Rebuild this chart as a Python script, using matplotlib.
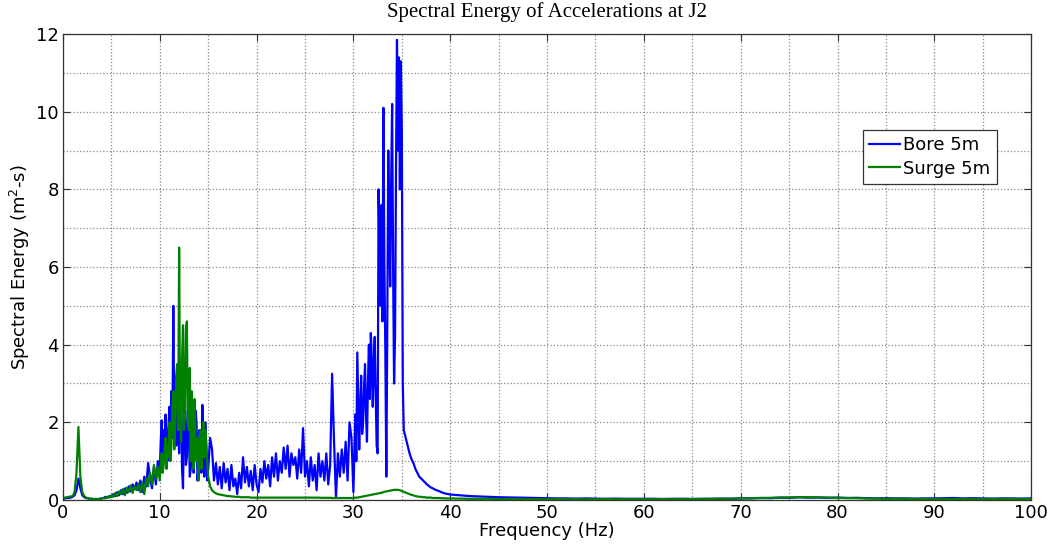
import numpy as np
import matplotlib
matplotlib.use("Agg")
import matplotlib.pyplot as plt
from matplotlib.ticker import MultipleLocator

# frequency grids (Hz): finer steps where the spectra are busy
bore_freq = np.concatenate([
    np.linspace(0, 9.8, 50),
    np.linspace(10, 15, 51),
    np.linspace(15.2, 29.8, 74),
    np.linspace(30, 35.2, 53),
    np.linspace(35.4, 40, 24),
    np.arange(41, 101),
])
surge_freq = np.concatenate([
    np.linspace(0, 9.8, 50),
    np.linspace(10, 15, 51),
    np.linspace(15.2, 40, 125),
    np.arange(41, 101),
])

bore_values = [
    # 0 - 9.8 Hz
    0.03, 0.04, 0.05, 0.05, 0.06,
    0.08, 0.12, 0.25, 0.55, 0.30,
    0.12, 0.07, 0.05, 0.04, 0.03,
    0.03, 0.02, 0.03, 0.02, 0.03,
    0.04, 0.05, 0.08, 0.06, 0.10,
    0.08, 0.15, 0.10, 0.20, 0.12,
    0.25, 0.15, 0.30, 0.18, 0.35,
    0.22, 0.40, 0.28, 0.45, 0.25,
    0.50, 0.20, 0.60, 0.35, 0.95,
    0.55, 0.30, 0.85, 0.40, 1.00,
    # 10 - 15 Hz
    0.70, 1.50, 2.05, 1.20, 1.80, 1.00, 2.20, 1.40, 1.00, 1.90,
    2.40, 1.30, 2.80, 1.60, 5.00, 2.00, 3.20, 1.40, 3.00, 1.80,
    1.20, 2.60, 2.90, 0.80, 0.30, 2.10, 2.50, 0.90, 1.10, 2.30,
    2.10, 0.60, 0.80, 1.70, 1.90, 0.70, 1.20, 2.30, 2.00, 0.50,
    0.90, 1.80, 1.60, 0.70, 2.45, 1.20, 0.60, 2.00, 1.30, 0.50,
    0.80,
    # 15.2 - 29.8 Hz
    1.60, 1.30, 0.50, 0.95,
    0.40, 0.85, 0.30, 0.95, 0.45,
    0.80, 0.25, 0.90, 0.35, 0.55,
    0.15, 0.70, 0.30, 1.10, 0.45,
    0.85, 0.35, 0.75, 0.25, 0.90,
    0.40, 0.20, 0.80, 0.45, 1.00,
    0.55, 0.90, 0.35, 1.10, 0.60,
    1.20, 0.50, 1.00, 0.70, 1.35,
    0.80, 1.40, 0.60, 1.20, 0.90,
    1.10, 0.55, 1.30, 0.70, 1.85,
    0.60, 1.00, 0.35, 1.10, 0.50,
    0.90, 0.25, 1.20, 0.60, 1.00,
    0.50, 1.20, 0.40, 0.90, 3.25,
    1.50, 0.05, 1.20, 0.60, 1.30,
    0.70, 1.50, 0.50, 2.00, 1.60,
    # 30 - 35.2 Hz
    0.20, 1.20, 2.20, 1.00, 3.80, 2.60, 1.30, 2.40, 3.20, 1.70,
    2.00, 2.90, 3.50, 2.20, 1.50, 3.00, 4.00, 2.60, 4.30, 3.60,
    2.40, 3.40, 4.20, 2.80, 1.40, 1.20, 8.00, 6.20, 5.00, 7.60,
    4.60, 10.10, 6.00, 3.80, 0.60, 4.50, 9.00, 7.00, 5.50, 8.20,
    10.20, 6.00, 3.00, 4.20, 8.50, 11.85, 9.00, 11.40, 8.00, 11.30,
    9.50, 3.00, 1.80,
    # 35.4 - 40 Hz
    1.60, 1.40, 1.20, 1.05, 0.95, 0.80, 0.70, 0.60, 0.55, 0.50,
    0.45, 0.40, 0.36, 0.32, 0.30, 0.27, 0.25, 0.23, 0.21, 0.19,
    0.17, 0.16, 0.15, 0.14,
    # 41 - 100 Hz
    0.12, 0.10, 0.09, 0.08, 0.07, 0.065, 0.06, 0.055, 0.05, 0.045,
    0.04, 0.04, 0.035, 0.04, 0.035, 0.03, 0.035, 0.03, 0.03, 0.03,
    0.03, 0.025, 0.03, 0.03, 0.025, 0.03, 0.03, 0.035, 0.03, 0.04,
    0.04, 0.05, 0.045, 0.06, 0.055, 0.07, 0.06, 0.065, 0.055, 0.06,
    0.05, 0.055, 0.045, 0.04, 0.045, 0.04, 0.04, 0.035, 0.04, 0.04,
    0.045, 0.05, 0.04, 0.045, 0.04, 0.035, 0.04, 0.04, 0.035, 0.04,
]

surge_values = [
    # 0 - 9.8 Hz
    0.05, 0.06, 0.07, 0.08, 0.09,
    0.10, 0.20, 0.70, 1.88, 0.60,
    0.20, 0.10, 0.06, 0.04, 0.03,
    0.03, 0.02, 0.02, 0.02, 0.03,
    0.03, 0.05, 0.04, 0.08, 0.06,
    0.12, 0.08, 0.18, 0.10, 0.22,
    0.15, 0.28, 0.12, 0.32, 0.20,
    0.38, 0.18, 0.35, 0.25, 0.42,
    0.20, 0.45, 0.15, 0.55, 0.35,
    0.70, 0.40, 0.90, 0.55, 0.85,
    # 10 - 15 Hz
    0.50, 0.90, 1.20, 0.70, 0.90, 1.30, 1.60, 0.80, 1.40, 1.10,
    2.00, 1.00, 1.40, 2.40, 2.80, 1.30, 2.00, 3.20, 3.50, 1.80,
    6.50, 2.00, 1.50, 3.60, 4.50, 1.80, 2.20, 4.40, 4.60, 2.00,
    1.80, 3.40, 1.00, 2.80, 1.20, 0.80, 2.60, 1.40, 1.00, 1.60,
    0.50, 1.20, 1.80, 0.80, 1.20, 2.00, 1.10, 1.80, 1.50, 1.00,
    0.60,
    # 15.2 - 40 Hz
    0.35, 0.25, 0.20, 0.17,
    0.15, 0.14, 0.13, 0.12, 0.11,
    0.10, 0.10, 0.09, 0.09, 0.08,
    0.08, 0.08, 0.07, 0.07, 0.07,
    0.07, 0.07, 0.06, 0.06, 0.06,
    0.06, 0.06, 0.06, 0.06, 0.06,
    0.06, 0.06, 0.06, 0.06, 0.06,
    0.06, 0.06, 0.06, 0.06, 0.06,
    0.06, 0.06, 0.06, 0.06, 0.06,
    0.06, 0.06, 0.06, 0.06, 0.06,
    0.06, 0.06, 0.06, 0.06, 0.06,
    0.06, 0.06, 0.06, 0.055, 0.055,
    0.055, 0.055, 0.055, 0.055, 0.05,
    0.05, 0.05, 0.05, 0.05, 0.05,
    0.05, 0.05, 0.05, 0.05, 0.05,
    0.05, 0.06, 0.06, 0.07, 0.08,
    0.09, 0.10, 0.11, 0.12, 0.13,
    0.14, 0.15, 0.16, 0.17, 0.18,
    0.19, 0.21, 0.22, 0.23, 0.24,
    0.25, 0.26, 0.26, 0.26, 0.25,
    0.23, 0.21, 0.19, 0.17, 0.15,
    0.13, 0.12, 0.10, 0.09, 0.08,
    0.08, 0.07, 0.07, 0.06, 0.06,
    0.06, 0.05, 0.05, 0.05, 0.05,
    0.045, 0.045, 0.04, 0.04, 0.04,
    0.04,
    # 41 - 100 Hz
    0.035, 0.03, 0.03, 0.03, 0.025, 0.025, 0.025, 0.02, 0.02, 0.02,
    0.02, 0.02, 0.02, 0.02, 0.02, 0.02, 0.02, 0.02, 0.02, 0.02,
    0.02, 0.02, 0.02, 0.025, 0.025, 0.025, 0.03, 0.03, 0.035, 0.04,
    0.045, 0.05, 0.055, 0.06, 0.065, 0.07, 0.07, 0.065, 0.06, 0.055,
    0.05, 0.045, 0.04, 0.035, 0.03, 0.03, 0.03, 0.025, 0.025, 0.025,
    0.025, 0.025, 0.025, 0.025, 0.025, 0.025, 0.025, 0.025, 0.025, 0.025,
]

labels = ["Bore 5m", "Surge 5m"]
title = "Spectral Energy of Accelerations at J2"

plt.rcParams['font.family'] = ['DejaVu Sans']
plt.rcParams['mathtext.default'] = 'regular'

fig = plt.figure(figsize=(10.49, 5.5), dpi=100)
ax = fig.add_axes([0.060, 0.091, 0.923, 0.847])

ax.plot(bore_freq, bore_values, color=(0, 0, 1), lw=1.6, label=labels[0])
ax.plot(surge_freq, surge_values, color=(0, 0.5, 0), lw=1.6, label=labels[1])

ax.set_xlim(0, 100)
ax.set_ylim(0, 12)
ax.xaxis.set_major_locator(MultipleLocator(10))
ax.xaxis.set_minor_locator(MultipleLocator(5))
ax.yaxis.set_major_locator(MultipleLocator(2))
ax.yaxis.set_minor_locator(MultipleLocator(1))

ax.grid(True, which='both', linestyle=':', color='#8a8a8a', linewidth=0.9)
ax.tick_params(which='major', direction='in', length=5, top=True, right=True,
               labelsize=13, color='#333333', pad=3)
ax.tick_params(which='minor', length=0)
for s in ax.spines.values():
    s.set_color('#333333')
    s.set_linewidth(0.9)

ax.set_xlabel("Frequency (Hz)", fontsize=13, labelpad=0)
ax.set_ylabel("Spectral Energy (m$^{2}$-s)", fontsize=13, labelpad=3)
ax.set_title(title, fontsize=15, family=['Liberation Serif', 'DejaVu Serif'], pad=12)

leg = ax.legend(loc='upper left', bbox_to_anchor=(0.826, 0.794), fontsize=13,
                fancybox=False, framealpha=1, edgecolor='#333333',
                handlelength=1.7, handletextpad=0.2, borderpad=0.35,
                labelspacing=0.3, borderaxespad=0)
leg.get_frame().set_linewidth(0.9)

fig.savefig("out.png", dpi=100)
